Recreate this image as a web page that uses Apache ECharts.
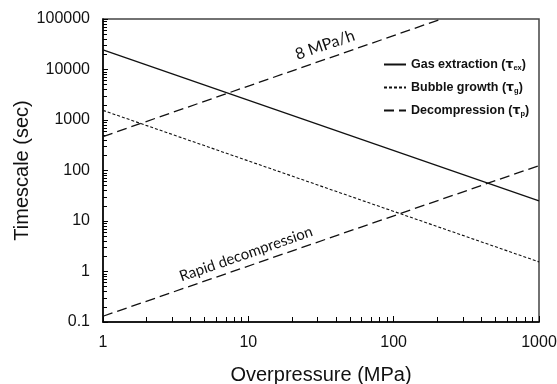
<!DOCTYPE html>
<html>
<head>
<meta charset="utf-8">
<script src="https://cdn.jsdelivr.net/npm/echarts@6/dist/echarts.min.js"></script>
<style>
  html, body { margin: 0; padding: 0; background: #fff; }
  #chart { width: 557px; height: 384px; }
</style>
</head>
<body>
<div id="chart"></div>
<script>
// Data (log-log axes)
const overpressure = [1, 1000];
const gasExtraction = [24500, 25];
const bubbleGrowth = [1550, 1.55];
const slowDecompX = [1, 213];
const slowDecomp = [470, 100000];
const rapidDecomp = [0.13, 125];

const xTickLabels = [1, 10, 100, 1000];
const yTickLabels = [0.1, 1, 10, 100, 1000, 10000, 100000];

// minor tick positions 2..9 within each decade
function minorTicks(lo, hi) {
    const out = [];
    for (let d = lo; d < hi; d *= 10) {
        for (let k = 2; k <= 9; k++) out.push(+(d * k).toPrecision(6));
    }
    return out;
}

const fmt = v => String(+(+v).toPrecision(6));

const pair = (xs, ys) => xs.map((x, i) => [x, ys[i]]);

const chart = echarts.init(document.getElementById('chart'));

const axisCommon = {
    type: 'log',
    logBase: 10,
    splitLine: { show: false },
    nameMoveOverlap: false,
    nameTextStyle: { fontFamily: 'Liberation Sans', fontSize: 20, color: '#111' }
};

const option = {
    animation: false,
    backgroundColor: '#fff',
    color: ['#111', '#111', '#111', '#111'],
    grid: {
        left: 103, right: 18, top: 19, bottom: 62,
        outerBoundsMode: 'none',
        containLabel: false,
        show: true, borderColor: '#444', borderWidth: 1.5
    },
    legend: {
        orient: 'vertical',
        left: 378, top: 53,
        itemWidth: 22, itemHeight: 14, itemGap: 9.5,
        itemStyle: { opacity: 0 },
        data: ['Gas extraction', 'Bubble growth', 'Decompression'],
        formatter: function (name) {
            if (name === 'Gas extraction') return '{b|Gas extraction (}{t|τ}{s|ex}{b|)}';
            if (name === 'Bubble growth') return '{b|Bubble growth (}{t|τ}{s|g}{b|)}';
            return '{b|Decompression (}{t|τ}{s|p}{b|)}';
        },
        textStyle: {
            rich: {
                b: { fontFamily: 'Liberation Sans', fontWeight: 'bold', fontSize: 12.5, color: '#111' },
                t: { fontFamily: 'DejaVu Sans', fontWeight: 'bold', fontSize: 12.5, color: '#111' },
                s: { fontFamily: 'Liberation Sans', fontWeight: 'bold', fontSize: 7.5, color: '#111', verticalAlign: 'bottom', padding: [6, 0, 0, 0] }
            }
        }
    },
    xAxis: [
        Object.assign({}, axisCommon, {
            min: 1, max: 1000,
            name: 'Overpressure (MPa)',
            nameLocation: 'middle',
            nameGap: 43,
            axisLine: { lineStyle: { color: '#000', width: 1.5 } },
            axisTick: { inside: true, length: 6, lineStyle: { color: '#000', width: 1 }, customValues: xTickLabels },
            axisLabel: {
                customValues: xTickLabels, formatter: fmt, margin: 13,
                fontFamily: 'Liberation Sans', fontSize: 16, color: '#111'
            }
        }),
        Object.assign({}, axisCommon, {
            min: 1, max: 1000, position: 'bottom',
            axisLine: { show: false },
            axisTick: { inside: true, length: 5, lineStyle: { color: '#000', width: 1 }, customValues: minorTicks(1, 1000) },
            axisLabel: { show: false }
        })
    ],
    yAxis: [
        Object.assign({}, axisCommon, {
            min: 0.1, max: 100000,
            name: 'Timescale (sec)',
            nameLocation: 'middle',
            nameGap: 71,
            axisLine: { lineStyle: { color: '#000', width: 1.5 } },
            axisTick: { inside: true, length: 5, lineStyle: { color: '#000', width: 1 }, customValues: yTickLabels },
            axisLabel: {
                customValues: yTickLabels, formatter: fmt, margin: 13,
                fontFamily: 'Liberation Sans', fontSize: 16, color: '#111'
            }
        }),
        Object.assign({}, axisCommon, {
            min: 0.1, max: 100000, position: 'left',
            axisLine: { show: false },
            axisTick: { inside: true, length: 4, lineStyle: { color: '#000', width: 1 }, customValues: minorTicks(0.1, 100000) },
            axisLabel: { show: false }
        })
    ],
    series: [
        {
            name: 'Gas extraction', type: 'line', symbol: 'none', silent: true,
            lineStyle: { color: '#111', width: 1.3, type: 'solid' },
            data: pair(overpressure, gasExtraction)
        },
        {
            name: 'Bubble growth', type: 'line', symbol: 'none', silent: true,
            lineStyle: { color: '#111', width: 1.1, type: [3, 2] },
            data: pair(overpressure, bubbleGrowth)
        },
        {
            name: 'Decompression', type: 'line', symbol: 'none', silent: true,
            lineStyle: { color: '#111', width: 1.3, type: [10, 5] },
            data: pair(slowDecompX, slowDecomp)
        },
        {
            name: 'Decompression', type: 'line', symbol: 'none', silent: true,
            lineStyle: { color: '#111', width: 1.3, type: [10, 5] },
            data: pair(overpressure, rapidDecomp)
        }
    ],
    graphic: [
        {
            type: 'text', x: 325, y: 45, rotation: 0.335,
            style: {
                text: '8 MPa/h', fontFamily: 'Lato', fontSize: 16, fill: '#111',
                align: 'center', verticalAlign: 'middle'
            }
        },
        {
            type: 'text', x: 246, y: 254, rotation: 0.335,
            style: {
                text: 'Rapid decompression', fontFamily: 'Lato', fontSize: 15, fill: '#111',
                align: 'center', verticalAlign: 'middle'
            }
        }
    ]
};

chart.setOption(option);
</script>
</body>
</html>
